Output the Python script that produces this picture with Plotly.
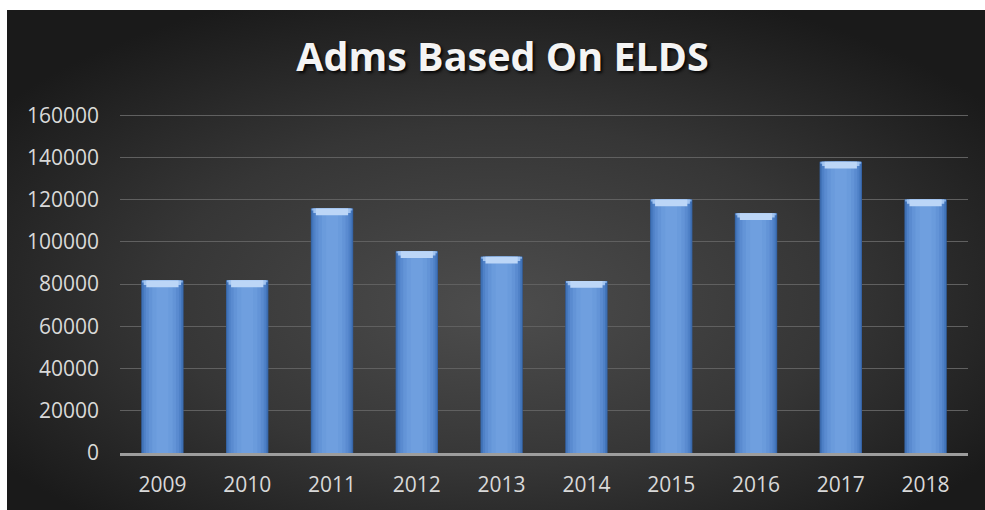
import base64
import plotly.graph_objects as go

# ---- data ----
years = ["2009", "2010", "2011", "2012", "2013", "2014", "2015", "2016", "2017", "2018"]
adms = [81700, 81800, 115800, 95600, 93000, 81500, 120100, 113600, 138000, 120100]
y_ticks = [0, 20000, 40000, 60000, 80000, 100000, 120000, 140000, 160000]
y_tick_labels = ["0", "20000", "40000", "60000", "80000", "100000", "120000", "140000", "160000"]
title_text = "Adms Based On ELDS"

W, H = 985, 510
L, R, T, B = 120, W - 968, 111, H - 453
YMAX = 162000

# dark radial background as SVG image
svg = '''<svg xmlns="http://www.w3.org/2000/svg" width="978" height="500" viewBox="0 0 978 500" preserveAspectRatio="none">
<defs><radialGradient id="g" cx="0.5" cy="0.55" r="0.62" fx="0.5" fy="0.6">
<stop offset="0" stop-color="#4d4d4d"/><stop offset="0.55" stop-color="#363636"/><stop offset="1" stop-color="#1a1a1a"/>
</radialGradient></defs><rect width="978" height="500" fill="url(#g)"/></svg>'''
src = "data:image/svg+xml;base64," + base64.b64encode(svg.encode()).decode()

pw, ph = W - L - R, H - T - B
def px_x(p):
    return (p - L) / pw
def px_y(p):
    return (H - B - p) / ph

fig = go.Figure()

# bars drawn as layered gradient (edge -> centre)
layers = [
    (0.50, "#34609f"),
    (0.48, "#4274b9"),
    (0.44, "#4f81c7"),
    (0.39, "#5a8bd0"),
    (0.32, "#6394d7"),
    (0.24, "#6a9bdc"),
    (0.14, "#6f9fdf"),
]
for w, c in layers:
    fig.add_trace(go.Bar(x=years, y=adms, width=w, marker=dict(color=c, line=dict(width=0)),
                         hoverinfo="skip", showlegend=False))

# top bevel highlight (stepped to suggest a trapezoid face)
bevel = 3800
bev_layers = [(0.48, 0.25, "#86b0e6"), (0.44, 0.55, "#a2c4f0"), (0.38, 0.85, "#bcd6f7")]
for w, frac, c in bev_layers:
    h = bevel * frac
    fig.add_trace(go.Bar(x=years, y=[h] * len(adms), base=[v - h for v in adms], width=w,
                         marker=dict(color=c, line=dict(width=0)),
                         hoverinfo="skip", showlegend=False))

fig.update_layout(
    width=W, height=H,
    margin=dict(l=L, r=R, t=T, b=B),
    paper_bgcolor="white",
    plot_bgcolor="rgba(0,0,0,0)",
    barmode="overlay",
    images=[dict(source=src, xref="paper", yref="paper", x=px_x(7), y=px_y(10),
                 sizex=(W - 7) / pw, sizey=(H - 10) / ph, xanchor="left", yanchor="top",
                 sizing="stretch", layer="below")],
    title=dict(text=f"<b>{title_text}</b>", x=502.5 / W, xanchor="center",
               y=1 - 57 / H, yanchor="middle",
               font=dict(family="Open Sans", size=39.5, color="#f4f4f4",
                         shadow="2px 2px 3px rgba(0,0,0,0.85)")),
    font=dict(family="Open Sans", size=21, color="#d9d9d9"),
    xaxis=dict(showgrid=False, showline=True, linecolor="#9d9d9d", linewidth=2.5,
               ticks="", tickfont=dict(size=21, color="#d9d9d9"), ticklabelstandoff=11),
    yaxis=dict(range=[0, YMAX], tickvals=y_ticks, ticktext=y_tick_labels, showgrid=True,
               gridcolor="#606060", gridwidth=1, zeroline=False, showline=False, ticks="",
               tickfont=dict(size=21, color="#d9d9d9"), ticklabelstandoff=20),
    bargap=0.5,
)

fig.write_html("out.html")
